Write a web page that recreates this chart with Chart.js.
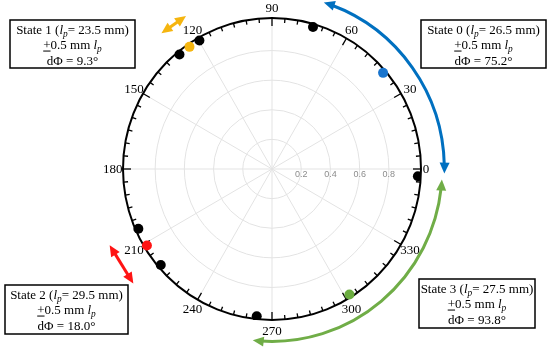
<!DOCTYPE html>
<html lang="en">
<head>
<meta charset="UTF-8" />
<title>Polar states</title>
<script src="https://cdn.jsdelivr.net/npm/chart.js"></script>
<style>
  html, body { margin: 0; padding: 0; background: #fff; }
  #wrap { width: 550px; height: 347px; position: relative; }
</style>
</head>
<body>
<div id="wrap"><canvas id="polar"></canvas></div>
<script>
  // measured points on the unit circle (angle in degrees, radius)
  const pointAngles = [73.7, 40.5, 357.2, 302.0, 264.0, 220.4, 211.1, 203.8, 119.8, 124.4, 129.3];
  const pointRadii  = [1, 1, 1, 1, 1, 1, 1, 1, 1, 1, 1];
  const pointColors = ['#000000', '#1874cd', '#000000', '#6aac3f', '#000000', '#000000',
                       '#ff1414', '#000000', '#000000', '#f5b50f', '#000000'];

  const angleTicks  = [0, 30, 60, 90, 120, 150, 180, 210, 240, 270, 300, 330];
  const radialTicks = [0.2, 0.4, 0.6, 0.8];
  const rMax = 1.02;

  // states
  const stateNames = ['State 0', 'State 1', 'State 2', 'State 3'];
  const stateLp    = ['26.5', '23.5', '29.5', '27.5'];
  const stateTol   = ['0.5', '0.5', '0.5', '0.5'];
  const stateDphi  = ['75.2', '9.3', '18.0', '93.8'];

  // curved arrows (state 0, state 3): angle span in degrees
  const arcFrom   = [-1.5, -96.5];
  const arcTo     = [72.5, -3.5];
  const arcRadii  = [1.18, 1.165];
  const arcColors = ['#0070c0', '#70ad47'];

  // short straight arrows (state 1, state 2): centre angle
  const barAngles = [124.6, 212.0];
  const barRadii  = [1.185, 1.215];
  const barLen    = [30, 45];
  const barColors = ['#f5b50f', '#ff1414'];

  // where the text boxes sit (state 0..3)
  const boxes = [
    { x: 421, y: 20,  w: 125, h: 48 },
    { x: 10,  y: 20,  w: 125, h: 48 },
    { x: 5,   y: 285, w: 123, h: 49 },
    { x: 419, y: 279, w: 116, h: 49 }
  ];

  const SERIF = '"Liberation Serif", "Times New Roman", serif';
  const rad = d => d * Math.PI / 180;

  function geo(chart) {
    const xs = chart.scales.x, ys = chart.scales.y;
    const cx = xs.getPixelForValue(0), cy = ys.getPixelForValue(0);
    return {
      cx, cy,
      p: (r, deg) => ({
        x: xs.getPixelForValue(r * Math.cos(rad(deg))),
        y: ys.getPixelForValue(r * Math.sin(rad(deg)))
      }),
      rx: r => xs.getPixelForValue(r) - cx,
      ry: r => cy - ys.getPixelForValue(r)
    };
  }

  function arrowHead(ctx, tip, dx, dy, color) {
    // dx,dy = unit direction the arrow points to
    const L = 11, W = 5;
    const bx = tip.x - dx * L, by = tip.y - dy * L;
    ctx.fillStyle = color;
    ctx.beginPath();
    ctx.moveTo(tip.x, tip.y);
    ctx.lineTo(bx - dy * W, by + dx * W);
    ctx.lineTo(bx + dy * W, by - dx * W);
    ctx.closePath();
    ctx.fill();
  }

  function drawRich(ctx, segs, cx, cy, size) {
    const fontOf = s => (s.it ? 'italic ' : '') + (s.sub ? size * 0.72 : size) + 'px ' + SERIF;
    let total = 0;
    segs.forEach(s => { ctx.font = fontOf(s); s.w = ctx.measureText(s.t).width; total += s.w; });
    let x = cx - total / 2;
    ctx.textAlign = 'left';
    ctx.textBaseline = 'alphabetic';
    ctx.fillStyle = '#000';
    const base = cy + size * 0.35;
    segs.forEach(s => {
      ctx.font = fontOf(s);
      const y = s.sub ? base + 3 : base;
      ctx.fillText(s.t, x, y);
      if (s.ul) {
        ctx.fillRect(x, base + 1.5, s.w, 1);
      }
      x += s.w;
    });
  }

  const polarGrid = {
    id: 'polarGrid',
    beforeDatasetsDraw(chart) {
      const ctx = chart.ctx;
      const g = geo(chart);
      ctx.save();
      // grey rings and spokes
      ctx.strokeStyle = '#e3e3e3';
      ctx.lineWidth = 1;
      radialTicks.forEach(t => {
        ctx.beginPath();
        ctx.ellipse(g.cx, g.cy, g.rx(t), g.ry(t), 0, 0, Math.PI * 2);
        ctx.stroke();
      });
      angleTicks.forEach(a => {
        const e = g.p(rMax, a);
        ctx.beginPath();
        ctx.moveTo(g.cx, g.cy);
        ctx.lineTo(e.x, e.y);
        ctx.stroke();
      });
      // radial labels
      ctx.fillStyle = '#8c8c8c';
      ctx.font = '9px "Liberation Sans", Arial, sans-serif';
      ctx.textAlign = 'center';
      ctx.textBaseline = 'middle';
      radialTicks.forEach(t => {
        const q = g.p(t, 0);
        ctx.fillText(String(t), q.x, q.y + 6);
      });
      // outer black ring
      ctx.strokeStyle = '#000';
      ctx.lineWidth = 2;
      ctx.beginPath();
      ctx.ellipse(g.cx, g.cy, g.rx(rMax), g.ry(rMax), 0, 0, Math.PI * 2);
      ctx.stroke();
      // tick marks every 5 degrees, pointing inward
      ctx.lineWidth = 1.3;
      for (let a = 0; a < 360; a += 5) {
        const e = g.p(rMax, a);
        const vx = g.cx - e.x, vy = g.cy - e.y, n = Math.hypot(vx, vy);
        const L = a % 30 === 0 ? 8 : 4.5;
        ctx.beginPath();
        ctx.moveTo(e.x, e.y);
        ctx.lineTo(e.x + vx / n * L, e.y + vy / n * L);
        ctx.stroke();
      }
      // angle labels
      ctx.fillStyle = '#000';
      ctx.font = '13px ' + SERIF;
      ctx.textAlign = 'center';
      ctx.textBaseline = 'middle';
      angleTicks.forEach(a => {
        const q = g.p(a === 0 ? 1.055 : 1.09, a);
        ctx.fillText(String(a), q.x, q.y + 1);
      });
      ctx.restore();
    },
    afterDatasetsDraw(chart) {
      const ctx = chart.ctx;
      const g = geo(chart);
      ctx.save();
      // curved double arrows
      arcFrom.forEach((lo, i) => {
        const hi = arcTo[i], col = arcColors[i], R = arcRadii[i];
        const rx = g.rx(R), ry = g.ry(R);
        const trim = 8 / rx * 180 / Math.PI;
        ctx.strokeStyle = col;
        ctx.lineWidth = 3;
        ctx.beginPath();
        ctx.ellipse(g.cx, g.cy, rx, ry, 0, -rad(lo + trim), -rad(hi - trim), true);
        ctx.stroke();
        // head at hi end (counter-clockwise direction)
        let t = g.p(R, hi);
        let dx = -Math.sin(rad(hi)) * rx, dy = -Math.cos(rad(hi)) * ry, n = Math.hypot(dx, dy);
        arrowHead(ctx, t, dx / n, dy / n, col);
        // head at lo end (clockwise direction)
        t = g.p(R, lo);
        dx = Math.sin(rad(lo)) * rx; dy = Math.cos(rad(lo)) * ry; n = Math.hypot(dx, dy);
        arrowHead(ctx, t, dx / n, dy / n, col);
      });
      // straight double arrows, tangent to the ring
      barAngles.forEach((a, i) => {
        const m = g.p(barRadii[i], a), col = barColors[i];
        let dx = -Math.sin(rad(a)) * g.rx(1), dy = -Math.cos(rad(a)) * g.ry(1);
        const n = Math.hypot(dx, dy); dx /= n; dy /= n;
        const h = barLen[i] / 2;
        const A = { x: m.x + dx * h, y: m.y + dy * h };
        const B = { x: m.x - dx * h, y: m.y - dy * h };
        ctx.strokeStyle = col;
        ctx.lineWidth = 3;
        ctx.beginPath();
        ctx.moveTo(A.x - dx * 7, A.y - dy * 7);
        ctx.lineTo(B.x + dx * 7, B.y + dy * 7);
        ctx.stroke();
        arrowHead(ctx, A, dx, dy, col);
        arrowHead(ctx, B, -dx, -dy, col);
      });
      // state boxes
      stateNames.forEach((name, i) => {
        const b = boxes[i];
        ctx.fillStyle = '#fff';
        ctx.fillRect(b.x, b.y, b.w, b.h);
        ctx.strokeStyle = '#000';
        ctx.lineWidth = 1.5;
        ctx.strokeRect(b.x, b.y, b.w, b.h);
        const cx = b.x + b.w / 2;
        drawRich(ctx, [
          { t: name + ' (' }, { t: 'l', it: 1 }, { t: 'p', it: 1, sub: 1 },
          { t: '= ' + stateLp[i] + ' mm)' }
        ], cx, b.y + 9, 13);
        drawRich(ctx, [
          { t: '+', ul: 1 }, { t: stateTol[i] + ' mm ' }, { t: 'l', it: 1 }, { t: 'p', it: 1, sub: 1 }
        ], cx, b.y + 24.5, 13);
        drawRich(ctx, [{ t: 'd\u03A6 = ' + stateDphi[i] + '\u00B0' }], cx, b.y + 40, 13);
      });
      ctx.restore();
    }
  };

  const pts = pointAngles.map((a, i) => ({
    x: pointRadii[i] * Math.cos(rad(a)),
    y: pointRadii[i] * Math.sin(rad(a))
  }));

  new Chart(document.getElementById('polar'), {
    type: 'scatter',
    data: {
      datasets: [{
        data: pts,
        pointRadius: 5,
        pointBorderWidth: 0,
        pointBackgroundColor: pointColors,
        pointBorderColor: pointColors
      }]
    },
    options: {
      responsive: true,
      maintainAspectRatio: false,
      animation: false,
      layout: { padding: { left: 123, right: 129, top: 18, bottom: 27 } },
      scales: {
        x: { type: 'linear', min: -rMax, max: rMax, display: false },
        y: { type: 'linear', min: -rMax, max: rMax, display: false }
      },
      plugins: { legend: { display: false }, tooltip: { enabled: false } }
    },
    plugins: [polarGrid]
  });
</script>
</body>
</html>
